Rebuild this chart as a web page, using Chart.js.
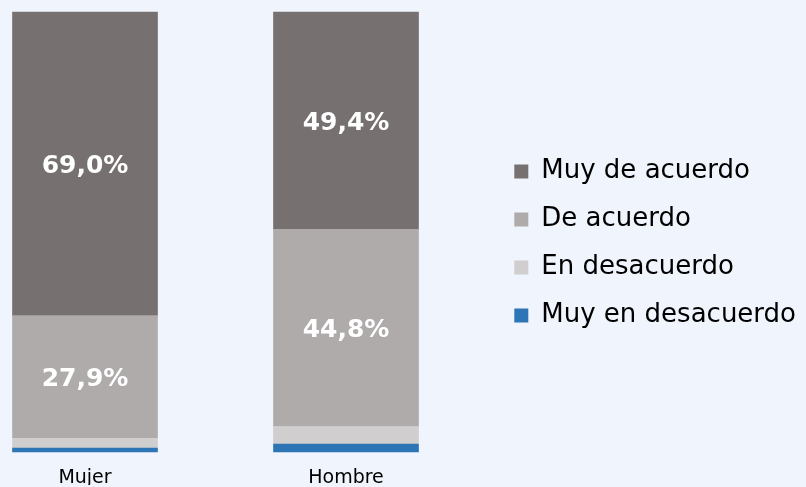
<!DOCTYPE html>
<html>
<head>
<meta charset="utf-8">
<script src="https://cdn.jsdelivr.net/npm/chart.js@4/dist/chart.umd.min.js"></script>
<style>
  html, body { margin: 0; padding: 0; background: #F0F4FD; }
  #wrap { width: 806px; height: 487px; position: relative; }
</style>
</head>
<body>
<div id="wrap"><canvas id="c" width="806" height="487"></canvas></div>
<script>
const categories = ['Mujer', 'Hombre'];
const seriesNames = ['Muy en desacuerdo', 'En desacuerdo', 'De acuerdo', 'Muy de acuerdo'];
const muyEnDesacuerdo = [0.9, 1.8];
const enDesacuerdo = [2.2, 4.0];
const deAcuerdo = [27.9, 44.8];
const muyDeAcuerdo = [69.0, 49.4];
const seriesColors = ['#2E75B6', '#D0CECE', '#AFABAB', '#767170'];

const FAMILY = '"DejaVu Sans", Verdana, sans-serif';
const LEGEND_SIZE = 26;
const LEGEND_PAD = 22;
const BOX = 14;
const PLOT_RIGHT = 346;

// measure the longest legend label to size the legend column
const mctx = document.createElement('canvas').getContext('2d');
mctx.font = LEGEND_SIZE + 'px ' + FAMILY;
const maxText = Math.max(...seriesNames.map(s => mctx.measureText(s).width));
const legendW = 10 + LEGEND_PAD + BOX + LEGEND_SIZE / 2 + maxText;
const gapW = Math.max(0, 806 - legendW - PLOT_RIGHT);

const allSeries = [muyEnDesacuerdo, enDesacuerdo, deAcuerdo, muyDeAcuerdo];

const labelPlugin = {
  id: 'barLabels',
  afterDatasetsDraw(chart) {
    const ctx = chart.ctx;
    ctx.save();
    ctx.font = 'bold 25px ' + FAMILY;
    ctx.fillStyle = '#FFFFFF';
    ctx.textAlign = 'center';
    ctx.textBaseline = 'middle';
    chart.data.datasets.forEach((ds, di) => {
      const meta = chart.getDatasetMeta(di);
      meta.data.forEach((el, i) => {
        const v = ds.data[i];
        if (v < 10) return;
        const p = el.getCenterPoint();
        ctx.fillText(v.toFixed(1).replace('.', ',') + '%', p.x, p.y + 3);
      });
    });
    ctx.restore();
  }
};

new Chart(document.getElementById('c'), {
  type: 'bar',
  data: {
    labels: categories,
    datasets: allSeries.map((d, i) => ({
      label: seriesNames[i],
      data: d,
      backgroundColor: seriesColors[i],
      borderWidth: 0,
      barThickness: 145,
      clip: false
    }))
  },
  options: {
    responsive: false,
    animation: false,
    layout: { padding: { left: 85, top: 2, right: 0, bottom: 2 } },
    scales: {
      x: {
        type: 'category',
        stacked: true,
        offset: false,
        grid: { display: false, drawTicks: false },
        border: { display: false },
        ticks: {
          color: '#000',
          font: { family: FAMILY, size: 19 },
          padding: 15,
          maxRotation: 0,
          autoSkip: false
        },
        afterFit: s => { s.height = 33; }
      },
      xTop: {
        type: 'category',
        position: 'top',
        offset: false,
        grid: { display: false, drawTicks: false },
        border: { display: false },
        ticks: { display: false },
        afterFit: s => { s.height = 10; }
      },
      y: {
        stacked: true,
        position: 'right',
        min: 0,
        max: 100,
        grid: { display: false, drawTicks: false },
        border: { display: false },
        ticks: { display: false },
        afterFit: s => { s.width = gapW; }
      }
    },
    plugins: {
      tooltip: { enabled: false },
      legend: {
        position: 'right',
        align: 'center',
        reverse: true,
        maxWidth: 500,
        labels: {
          color: '#000',
          font: { family: FAMILY, size: LEGEND_SIZE },
          boxWidth: BOX,
          boxHeight: BOX,
          padding: LEGEND_PAD
        }
      }
    }
  },
  plugins: [labelPlugin]
});
</script>
</body>
</html>
